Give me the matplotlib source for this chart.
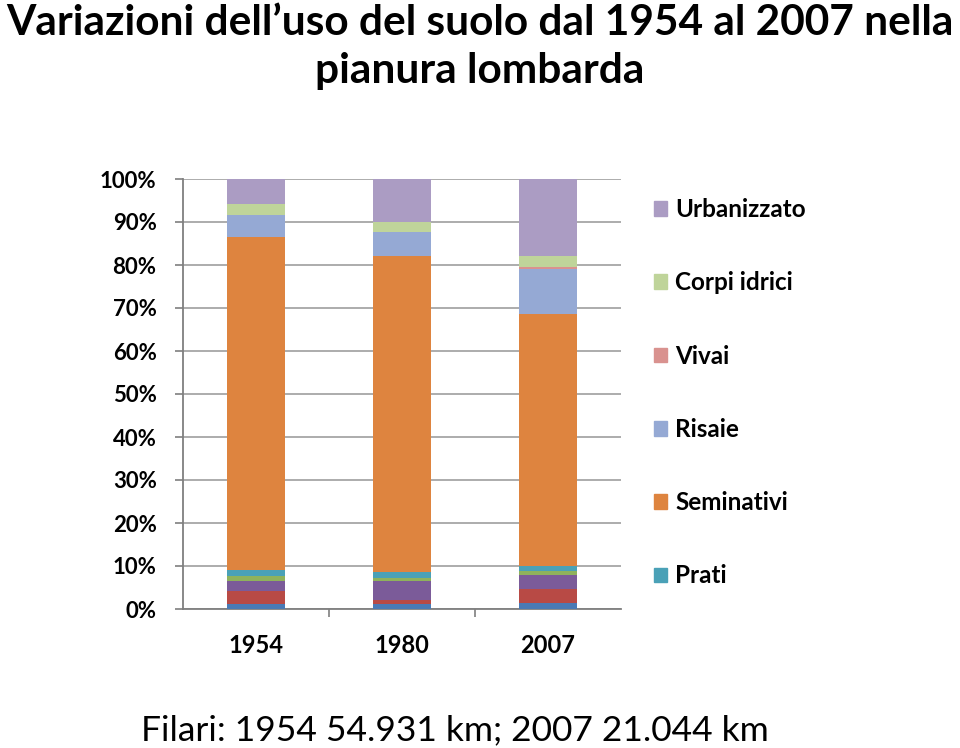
import numpy as np
import matplotlib.pyplot as plt
from matplotlib.patches import Patch

years = ["1954", "1980", "2007"]

# stacked from bottom to top (values in %)
series = ["_s1", "_s2", "_s3", "_s4", "Prati", "Seminativi", "Risaie", "Vivai",
          "Corpi idrici", "Urbanizzato"]
values = {
    "_s1":          [1.1, 1.1, 1.3],
    "_s2":          [3.2, 0.9, 3.3],
    "_s3":          [2.1, 4.6, 3.3],
    "_s4":          [1.3, 0.5, 1.0],
    "Prati":        [1.4, 1.4, 1.2],
    "Seminativi":   [77.3, 73.6, 58.5],
    "Risaie":       [5.2, 5.6, 10.4],
    "Vivai":        [0.0, 0.0, 0.5],
    "Corpi idrici": [2.6, 2.3, 2.6],
    "Urbanizzato":  [5.8, 10.0, 17.9],
}
colors = {
    "_s1": "#4a7ab5", "_s2": "#b84a45", "_s3": "#7b5b99", "_s4": "#8fb25c",
    "Prati": "#4aa1b7", "Seminativi": "#de843f", "Risaie": "#95a9d4",
    "Vivai": "#d9928f", "Corpi idrici": "#bfd49a", "Urbanizzato": "#ab9cc3",
}
legend_order = ["Urbanizzato", "Corpi idrici", "Vivai", "Risaie", "Seminativi", "Prati"]

body = ["Lato", "DejaVu Sans"]

fig = plt.figure(figsize=(9.6, 7.48), dpi=100)
ax = fig.add_axes([183/960, 1-609/748, (621-183)/960, 430/748])

x = np.arange(len(years))
tot = np.array([sum(values[k][i] for k in series) for i in range(len(years))])
bottom = np.zeros(len(years))
for s in series:
    v = np.array(values[s]) / tot * 100
    ax.bar(x, v, 0.4, bottom=bottom, color=colors[s], zorder=3)
    bottom += v

ax.set_xlim(-0.5, 2.5)
ax.set_ylim(0, 100)
ax.set_yticks(np.arange(0, 101, 10))
ax.set_yticklabels([f"{t}%" for t in range(0, 101, 10)], family=body, fontsize=16,
                   fontweight="bold")
ax.yaxis.grid(True, color="#a6a6a6", lw=1.3, zorder=0)
ax.set_xticks([0.5, 1.5], minor=False)
ax.set_xticklabels([])
ax.set_xticks(x, minor=True)
ax.set_xticklabels(years, minor=True, family=body, fontsize=17, fontweight="bold")
ax.tick_params(axis="x", which="minor", length=0, pad=18)
ax.tick_params(axis="x", which="major", length=6, width=1.2, color="#7f7f7f")
ax.tick_params(axis="y", length=6, width=1.2, color="#7f7f7f", pad=13)
for sp in ["top", "right"]:
    ax.spines[sp].set_visible(False)
for sp in ["left", "bottom"]:
    ax.spines[sp].set_color("#7f7f7f")
    ax.spines[sp].set_linewidth(1.3)

handles = [Patch(color=colors[k], label=k) for k in legend_order]
leg = fig.legend(handles=handles, loc="upper left", bbox_to_anchor=(632/960, 1-176/748),
                 frameon=False, prop={"family": body, "size": 17.5, "weight": "bold"},
                 handlelength=0.55, handleheight=0.55, handletextpad=0.33,
                 labelspacing=2.07)

fig.text(0.5, 1-4/748, "Variazioni dell\u2019uso del suolo dal 1954 al 2007 nella\n"
         "pianura lombarda", family=body, fontsize=30.5, fontweight="bold",
         va="top", ha="center", multialignment="center", linespacing=1.32)
fig.text(455/960, 1-730/748, "Filari: 1954 54.931 km; 2007 21.044 km", family=body,
         fontsize=25.5, ha="center", va="center")

fig.savefig("out.png", dpi=100)
